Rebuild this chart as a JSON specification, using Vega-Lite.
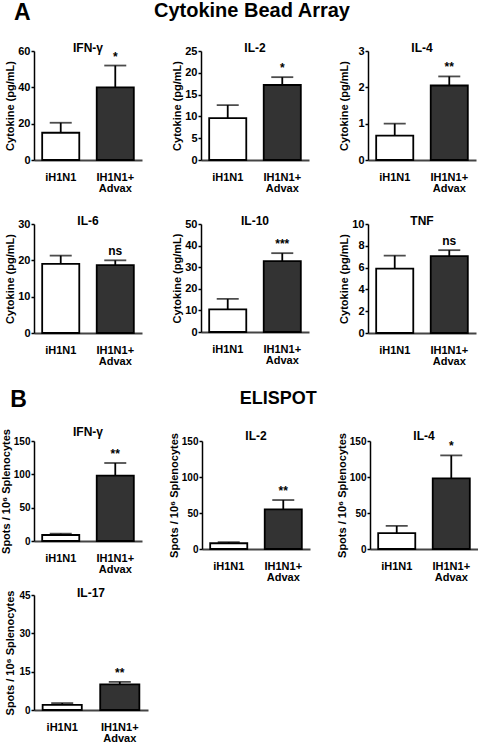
{
  "$schema": "https://vega.github.io/schema/vega-lite/v6.json",
  "padding": {"left": 0, "top": 1, "right": 0, "bottom": 0},
  "background": "white",
  "config": {
    "font": "Liberation Sans",
    "view": {"stroke": null},
    "axis": {"labelFont": "Liberation Sans", "labelFontSize": 11, "labelFontWeight": "bold", "labelColor": "black", "titleFont": "Liberation Sans", "titleFontSize": 11, "titleFontWeight": "bold", "titleColor": "black", "domainColor": "black", "domainWidth": 1.5, "tickColor": "black", "tickWidth": 1.5, "tickSize": 3, "grid": false, "labelPadding": 1, "titlePadding": 2, "labelOverlap": false},
    "axisY": {"minExtent": 17},
    "axisX": {"ticks": false, "labelAngle": 0, "labelPadding": 17, "labelBaseline": "middle", "labelLineHeight": 11, "domainColor": "#444444", "domainWidth": 2},
    "title": {"font": "Liberation Sans", "fontSize": 12, "fontWeight": "bold", "color": "black", "offset": -10, "anchor": "middle"},
    "scale": {"bandPaddingInner": 0.32, "bandPaddingOuter": 0.15}
  },
  "spacing": 22,
  "vconcat": [
    {
      "title": {"text": "A", "anchor": "start", "fontSize": 23, "offset": 2, "dy": 26, "dx": 10},
      "spacing": 22,
      "vconcat": [
        {
          "title": {"text": "Cytokine Bead Array", "anchor": "middle", "fontSize": 20, "offset": 21, "dx": 12},
          "spacing": 29,
          "hconcat": [
            {
              "width": 108, "height": 109,
              "title": {"text": "IFN-γ"},
              "data": {"values": [{"group": "iH1N1", "mean": 15, "sem_top": 20.5, "sig": ""}, {"group": "IH1N1+ Advax", "mean": 40, "sem_top": 52, "sig": "*"}]},
              "encoding": {"x": {"field": "group", "type": "nominal", "sort": null, "title": null, "axis": {"labelExpr": "datum.value == 'IH1N1+ Advax' ? ['IH1N1+', 'Advax'] : datum.value"}}},
              "layer": [
                {"mark": {"type": "bar", "stroke": "black", "strokeWidth": 1.8}, "encoding": {"y": {"field": "mean", "type": "quantitative", "title": "Cytokine (pg/mL)", "scale": {"domain": [0, 60], "nice": false}, "axis": {"values": [0, 20, 40, 60]}}, "fill": {"field": "group", "type": "nominal", "sort": null, "scale": {"range": ["#ffffff", "#333333"]}, "legend": null}}},
                {"mark": {"type": "rule", "strokeWidth": 1.8, "color": "black"}, "encoding": {"y": {"field": "mean", "type": "quantitative", "title": "Cytokine (pg/mL)", "axis": {"values": [0, 20, 40, 60]}}, "y2": {"field": "sem_top"}}},
                {"mark": {"type": "tick", "color": "black", "thickness": 1.8, "size": 22}, "encoding": {"y": {"field": "sem_top", "type": "quantitative", "title": "Cytokine (pg/mL)", "axis": {"values": [0, 20, 40, 60]}}}},
                {"mark": {"type": "text", "dy": -9, "fontWeight": "bold", "fontSize": 12, "color": "black"}, "encoding": {"y": {"field": "sem_top", "type": "quantitative", "title": "Cytokine (pg/mL)", "axis": {"values": [0, 20, 40, 60]}}, "text": {"field": "sig"}}}
              ]
            },
            {
              "width": 108, "height": 109,
              "title": {"text": "IL-2"},
              "data": {"values": [{"group": "iH1N1", "mean": 9.6, "sem_top": 12.6, "sig": ""}, {"group": "IH1N1+ Advax", "mean": 17.2, "sem_top": 19, "sig": "*"}]},
              "encoding": {"x": {"field": "group", "type": "nominal", "sort": null, "title": null, "axis": {"labelExpr": "datum.value == 'IH1N1+ Advax' ? ['IH1N1+', 'Advax'] : datum.value"}}},
              "layer": [
                {"mark": {"type": "bar", "stroke": "black", "strokeWidth": 1.8}, "encoding": {"y": {"field": "mean", "type": "quantitative", "title": "Cytokine (pg/mL)", "scale": {"domain": [0, 25], "nice": false}, "axis": {"values": [0, 5, 10, 15, 20, 25]}}, "fill": {"field": "group", "type": "nominal", "sort": null, "scale": {"range": ["#ffffff", "#333333"]}, "legend": null}}},
                {"mark": {"type": "rule", "strokeWidth": 1.8, "color": "black"}, "encoding": {"y": {"field": "mean", "type": "quantitative", "title": "Cytokine (pg/mL)", "axis": {"values": [0, 5, 10, 15, 20, 25]}}, "y2": {"field": "sem_top"}}},
                {"mark": {"type": "tick", "color": "black", "thickness": 1.8, "size": 22}, "encoding": {"y": {"field": "sem_top", "type": "quantitative", "title": "Cytokine (pg/mL)", "axis": {"values": [0, 5, 10, 15, 20, 25]}}}},
                {"mark": {"type": "text", "dy": -9, "fontWeight": "bold", "fontSize": 12, "color": "black"}, "encoding": {"y": {"field": "sem_top", "type": "quantitative", "title": "Cytokine (pg/mL)", "axis": {"values": [0, 5, 10, 15, 20, 25]}}, "text": {"field": "sig"}}}
              ]
            },
            {
              "width": 108, "height": 109,
              "title": {"text": "IL-4"},
              "data": {"values": [{"group": "iH1N1", "mean": 0.67, "sem_top": 1.0, "sig": ""}, {"group": "IH1N1+ Advax", "mean": 2.05, "sem_top": 2.3, "sig": "**"}]},
              "encoding": {"x": {"field": "group", "type": "nominal", "sort": null, "title": null, "axis": {"labelExpr": "datum.value == 'IH1N1+ Advax' ? ['IH1N1+', 'Advax'] : datum.value"}}},
              "layer": [
                {"mark": {"type": "bar", "stroke": "black", "strokeWidth": 1.8}, "encoding": {"y": {"field": "mean", "type": "quantitative", "title": "Cytokine (pg/mL)", "scale": {"domain": [0, 3], "nice": false}, "axis": {"values": [0, 1, 2, 3]}}, "fill": {"field": "group", "type": "nominal", "sort": null, "scale": {"range": ["#ffffff", "#333333"]}, "legend": null}}},
                {"mark": {"type": "rule", "strokeWidth": 1.8, "color": "black"}, "encoding": {"y": {"field": "mean", "type": "quantitative", "title": "Cytokine (pg/mL)", "axis": {"values": [0, 1, 2, 3]}}, "y2": {"field": "sem_top"}}},
                {"mark": {"type": "tick", "color": "black", "thickness": 1.8, "size": 22}, "encoding": {"y": {"field": "sem_top", "type": "quantitative", "title": "Cytokine (pg/mL)", "axis": {"values": [0, 1, 2, 3]}}}},
                {"mark": {"type": "text", "dy": -9, "fontWeight": "bold", "fontSize": 12, "color": "black"}, "encoding": {"y": {"field": "sem_top", "type": "quantitative", "title": "Cytokine (pg/mL)", "axis": {"values": [0, 1, 2, 3]}}, "text": {"field": "sig"}}}
              ]
            }
          ]
        },
        {
          "spacing": 29,
          "hconcat": [
            {
              "width": 108, "height": 109,
              "title": {"text": "IL-6"},
              "data": {"values": [{"group": "iH1N1", "mean": 19, "sem_top": 21.3, "sig": ""}, {"group": "IH1N1+ Advax", "mean": 18.7, "sem_top": 20, "sig": "ns"}]},
              "encoding": {"x": {"field": "group", "type": "nominal", "sort": null, "title": null, "axis": {"labelExpr": "datum.value == 'IH1N1+ Advax' ? ['IH1N1+', 'Advax'] : datum.value"}}},
              "layer": [
                {"mark": {"type": "bar", "stroke": "black", "strokeWidth": 1.8}, "encoding": {"y": {"field": "mean", "type": "quantitative", "title": "Cytokine (pg/mL)", "scale": {"domain": [0, 30], "nice": false}, "axis": {"values": [0, 10, 20, 30]}}, "fill": {"field": "group", "type": "nominal", "sort": null, "scale": {"range": ["#ffffff", "#333333"]}, "legend": null}}},
                {"mark": {"type": "rule", "strokeWidth": 1.8, "color": "black"}, "encoding": {"y": {"field": "mean", "type": "quantitative", "title": "Cytokine (pg/mL)", "axis": {"values": [0, 10, 20, 30]}}, "y2": {"field": "sem_top"}}},
                {"mark": {"type": "tick", "color": "black", "thickness": 1.8, "size": 22}, "encoding": {"y": {"field": "sem_top", "type": "quantitative", "title": "Cytokine (pg/mL)", "axis": {"values": [0, 10, 20, 30]}}}},
                {"mark": {"type": "text", "dy": -9, "fontWeight": "bold", "fontSize": 12, "color": "black"}, "encoding": {"y": {"field": "sem_top", "type": "quantitative", "title": "Cytokine (pg/mL)", "axis": {"values": [0, 10, 20, 30]}}, "text": {"field": "sig"}}}
              ]
            },
            {
              "width": 108, "height": 108,
              "title": {"text": "IL-10"},
              "data": {"values": [{"group": "iH1N1", "mean": 10.5, "sem_top": 15.3, "sig": ""}, {"group": "IH1N1+ Advax", "mean": 32.8, "sem_top": 36.5, "sig": "***"}]},
              "encoding": {"x": {"field": "group", "type": "nominal", "sort": null, "title": null, "axis": {"labelExpr": "datum.value == 'IH1N1+ Advax' ? ['IH1N1+', 'Advax'] : datum.value"}}},
              "layer": [
                {"mark": {"type": "bar", "stroke": "black", "strokeWidth": 1.8}, "encoding": {"y": {"field": "mean", "type": "quantitative", "title": "Cytokine (pg/mL)", "scale": {"domain": [0, 50], "nice": false}, "axis": {"values": [0, 10, 20, 30, 40, 50]}}, "fill": {"field": "group", "type": "nominal", "sort": null, "scale": {"range": ["#ffffff", "#333333"]}, "legend": null}}},
                {"mark": {"type": "rule", "strokeWidth": 1.8, "color": "black"}, "encoding": {"y": {"field": "mean", "type": "quantitative", "title": "Cytokine (pg/mL)", "axis": {"values": [0, 10, 20, 30, 40, 50]}}, "y2": {"field": "sem_top"}}},
                {"mark": {"type": "tick", "color": "black", "thickness": 1.8, "size": 22}, "encoding": {"y": {"field": "sem_top", "type": "quantitative", "title": "Cytokine (pg/mL)", "axis": {"values": [0, 10, 20, 30, 40, 50]}}}},
                {"mark": {"type": "text", "dy": -9, "fontWeight": "bold", "fontSize": 12, "color": "black"}, "encoding": {"y": {"field": "sem_top", "type": "quantitative", "title": "Cytokine (pg/mL)", "axis": {"values": [0, 10, 20, 30, 40, 50]}}, "text": {"field": "sig"}}}
              ]
            },
            {
              "width": 108, "height": 109,
              "title": {"text": "TNF"},
              "data": {"values": [{"group": "iH1N1", "mean": 5.9, "sem_top": 7.1, "sig": ""}, {"group": "IH1N1+ Advax", "mean": 7.05, "sem_top": 7.6, "sig": "ns"}]},
              "encoding": {"x": {"field": "group", "type": "nominal", "sort": null, "title": null, "axis": {"labelExpr": "datum.value == 'IH1N1+ Advax' ? ['IH1N1+', 'Advax'] : datum.value"}}},
              "layer": [
                {"mark": {"type": "bar", "stroke": "black", "strokeWidth": 1.8}, "encoding": {"y": {"field": "mean", "type": "quantitative", "title": "Cytokine (pg/mL)", "scale": {"domain": [0, 10], "nice": false}, "axis": {"values": [0, 2, 4, 6, 8, 10]}}, "fill": {"field": "group", "type": "nominal", "sort": null, "scale": {"range": ["#ffffff", "#333333"]}, "legend": null}}},
                {"mark": {"type": "rule", "strokeWidth": 1.8, "color": "black"}, "encoding": {"y": {"field": "mean", "type": "quantitative", "title": "Cytokine (pg/mL)", "axis": {"values": [0, 2, 4, 6, 8, 10]}}, "y2": {"field": "sem_top"}}},
                {"mark": {"type": "tick", "color": "black", "thickness": 1.8, "size": 22}, "encoding": {"y": {"field": "sem_top", "type": "quantitative", "title": "Cytokine (pg/mL)", "axis": {"values": [0, 2, 4, 6, 8, 10]}}}},
                {"mark": {"type": "text", "dy": -9, "fontWeight": "bold", "fontSize": 12, "color": "black"}, "encoding": {"y": {"field": "sem_top", "type": "quantitative", "title": "Cytokine (pg/mL)", "axis": {"values": [0, 2, 4, 6, 8, 10]}}, "text": {"field": "sig"}}}
              ]
            }
          ]
        }
      ]
    },
    {
      "title": {"text": "B", "anchor": "start", "fontSize": 23, "offset": 2, "dy": 24, "dx": 10},
      "spacing": 5,
      "vconcat": [
        {
          "title": {"text": "ELISPOT", "anchor": "middle", "fontSize": 18, "offset": 18, "dx": 39},
          "spacing": 26,
          "hconcat": [
            {
              "width": 108, "height": 100,
              "title": {"text": "IFN-γ"},
              "data": {"values": [{"group": "iH1N1", "mean": 9, "sem_top": 11, "sig": ""}, {"group": "IH1N1+ Advax", "mean": 98, "sem_top": 117, "sig": "**"}]},
              "encoding": {"x": {"field": "group", "type": "nominal", "sort": null, "title": null, "axis": {"labelExpr": "datum.value == 'IH1N1+ Advax' ? ['IH1N1+', 'Advax'] : datum.value"}}},
              "layer": [
                {"mark": {"type": "bar", "stroke": "black", "strokeWidth": 1.8}, "encoding": {"y": {"field": "mean", "type": "quantitative", "title": "Spots / 10⁶ Splenocytes", "scale": {"domain": [0, 150], "nice": false}, "axis": {"values": [0, 50, 100, 150], "labelFontSize": 10}}, "fill": {"field": "group", "type": "nominal", "sort": null, "scale": {"range": ["#ffffff", "#333333"]}, "legend": null}}},
                {"mark": {"type": "rule", "strokeWidth": 1.8, "color": "black"}, "encoding": {"y": {"field": "mean", "type": "quantitative", "title": "Spots / 10⁶ Splenocytes", "axis": {"values": [0, 50, 100, 150], "labelFontSize": 10}}, "y2": {"field": "sem_top"}}},
                {"mark": {"type": "tick", "color": "black", "thickness": 1.8, "size": 22}, "encoding": {"y": {"field": "sem_top", "type": "quantitative", "title": "Spots / 10⁶ Splenocytes", "axis": {"values": [0, 50, 100, 150], "labelFontSize": 10}}}},
                {"mark": {"type": "text", "dy": -9, "fontWeight": "bold", "fontSize": 12, "color": "black"}, "encoding": {"y": {"field": "sem_top", "type": "quantitative", "title": "Spots / 10⁶ Splenocytes", "axis": {"values": [0, 50, 100, 150], "labelFontSize": 10}}, "text": {"field": "sig"}}}
              ]
            },
            {
              "width": 108, "height": 108,
              "title": {"text": "IL-2"},
              "data": {"values": [{"group": "iH1N1", "mean": 8, "sem_top": 9.5, "sig": ""}, {"group": "IH1N1+ Advax", "mean": 55, "sem_top": 68, "sig": "**"}]},
              "encoding": {"x": {"field": "group", "type": "nominal", "sort": null, "title": null, "axis": {"labelExpr": "datum.value == 'IH1N1+ Advax' ? ['IH1N1+', 'Advax'] : datum.value"}}},
              "layer": [
                {"mark": {"type": "bar", "stroke": "black", "strokeWidth": 1.8}, "encoding": {"y": {"field": "mean", "type": "quantitative", "title": "Spots / 10⁶ Splenocytes", "scale": {"domain": [0, 150], "nice": false}, "axis": {"values": [0, 50, 100, 150], "labelFontSize": 10}}, "fill": {"field": "group", "type": "nominal", "sort": null, "scale": {"range": ["#ffffff", "#333333"]}, "legend": null}}},
                {"mark": {"type": "rule", "strokeWidth": 1.8, "color": "black"}, "encoding": {"y": {"field": "mean", "type": "quantitative", "title": "Spots / 10⁶ Splenocytes", "axis": {"values": [0, 50, 100, 150], "labelFontSize": 10}}, "y2": {"field": "sem_top"}}},
                {"mark": {"type": "tick", "color": "black", "thickness": 1.8, "size": 22}, "encoding": {"y": {"field": "sem_top", "type": "quantitative", "title": "Spots / 10⁶ Splenocytes", "axis": {"values": [0, 50, 100, 150], "labelFontSize": 10}}}},
                {"mark": {"type": "text", "dy": -9, "fontWeight": "bold", "fontSize": 12, "color": "black"}, "encoding": {"y": {"field": "sem_top", "type": "quantitative", "title": "Spots / 10⁶ Splenocytes", "axis": {"values": [0, 50, 100, 150], "labelFontSize": 10}}, "text": {"field": "sig"}}}
              ]
            },
            {
              "width": 108, "height": 108,
              "title": {"text": "IL-4"},
              "data": {"values": [{"group": "iH1N1", "mean": 22, "sem_top": 32, "sig": ""}, {"group": "IH1N1+ Advax", "mean": 98, "sem_top": 130, "sig": "*"}]},
              "encoding": {"x": {"field": "group", "type": "nominal", "sort": null, "title": null, "axis": {"labelExpr": "datum.value == 'IH1N1+ Advax' ? ['IH1N1+', 'Advax'] : datum.value"}}},
              "layer": [
                {"mark": {"type": "bar", "stroke": "black", "strokeWidth": 1.8}, "encoding": {"y": {"field": "mean", "type": "quantitative", "title": "Spots / 10⁶ Splenocytes", "scale": {"domain": [0, 150], "nice": false}, "axis": {"values": [0, 50, 100, 150], "labelFontSize": 10}}, "fill": {"field": "group", "type": "nominal", "sort": null, "scale": {"range": ["#ffffff", "#333333"]}, "legend": null}}},
                {"mark": {"type": "rule", "strokeWidth": 1.8, "color": "black"}, "encoding": {"y": {"field": "mean", "type": "quantitative", "title": "Spots / 10⁶ Splenocytes", "axis": {"values": [0, 50, 100, 150], "labelFontSize": 10}}, "y2": {"field": "sem_top"}}},
                {"mark": {"type": "tick", "color": "black", "thickness": 1.8, "size": 22}, "encoding": {"y": {"field": "sem_top", "type": "quantitative", "title": "Spots / 10⁶ Splenocytes", "axis": {"values": [0, 50, 100, 150], "labelFontSize": 10}}}},
                {"mark": {"type": "text", "dy": -9, "fontWeight": "bold", "fontSize": 12, "color": "black"}, "encoding": {"y": {"field": "sem_top", "type": "quantitative", "title": "Spots / 10⁶ Splenocytes", "axis": {"values": [0, 50, 100, 150], "labelFontSize": 10}}, "text": {"field": "sig"}}}
              ]
            }
          ]
        },
        {
          "hconcat": [
            {
              "width": 114, "height": 115,
              "title": {"text": "IL-17"},
              "data": {"values": [{"group": "iH1N1", "mean": 2, "sem_top": 2.7, "sig": ""}, {"group": "IH1N1+ Advax", "mean": 10, "sem_top": 11, "sig": "**"}]},
              "encoding": {"x": {"field": "group", "type": "nominal", "sort": null, "title": null, "axis": {"labelExpr": "datum.value == 'IH1N1+ Advax' ? ['IH1N1+', 'Advax'] : datum.value"}}},
              "layer": [
                {"mark": {"type": "bar", "stroke": "black", "strokeWidth": 1.8}, "encoding": {"y": {"field": "mean", "type": "quantitative", "title": "Spots / 10⁶ Splenocytes", "scale": {"domain": [0, 45], "nice": false}, "axis": {"values": [0, 15, 30, 45], "labelFontSize": 10}}, "fill": {"field": "group", "type": "nominal", "sort": null, "scale": {"range": ["#ffffff", "#333333"]}, "legend": null}}},
                {"mark": {"type": "rule", "strokeWidth": 1.8, "color": "black"}, "encoding": {"y": {"field": "mean", "type": "quantitative", "title": "Spots / 10⁶ Splenocytes", "axis": {"values": [0, 15, 30, 45], "labelFontSize": 10}}, "y2": {"field": "sem_top"}}},
                {"mark": {"type": "tick", "color": "black", "thickness": 1.8, "size": 22}, "encoding": {"y": {"field": "sem_top", "type": "quantitative", "title": "Spots / 10⁶ Splenocytes", "axis": {"values": [0, 15, 30, 45], "labelFontSize": 10}}}},
                {"mark": {"type": "text", "dy": -9, "fontWeight": "bold", "fontSize": 12, "color": "black"}, "encoding": {"y": {"field": "sem_top", "type": "quantitative", "title": "Spots / 10⁶ Splenocytes", "axis": {"values": [0, 15, 30, 45], "labelFontSize": 10}}, "text": {"field": "sig"}}}
              ]
            }
          ]
        }
      ]
    }
  ]
}
